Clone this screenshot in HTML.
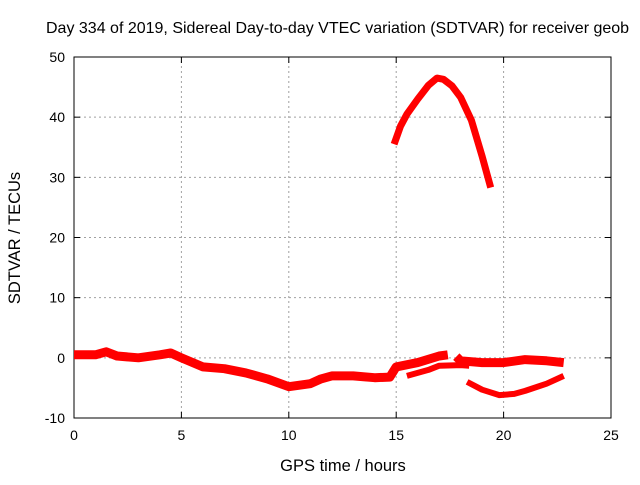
<!DOCTYPE html>
<html><head><meta charset="utf-8"><style>
body{margin:0;background:#fff;}
svg text{font-family:"Liberation Sans",sans-serif;font-size:14px;fill:#000;}
svg text.big{font-size:16.5px;}
svg text.ttl{font-size:16px;}
</style></head><body>
<svg width="640" height="480">
<rect width="640" height="480" fill="#fff"/>
<g id="grid"></g>
<g id="axes"></g>
<g id="series"></g>
<text class="ttl" x="46" y="33" text-anchor="start">Day 334 of 2019, Sidereal Day-to-day VTEC variation (SDTVAR) for receiver geob</text>
<text class="big" x="343" y="471" text-anchor="middle">GPS time / hours</text>
<text class="big" transform="translate(20,238) rotate(-90)" text-anchor="middle">SDTVAR / TECUs</text>
</svg>
<script>
const xTicks=[0,5,10,15,20,25];
const yTicks=[-10,0,10,20,30,40,50];
const s1T=[0,0.5,1,1.5,2,3,4,4.5,5,6,7,8,9,10,11,11.5,12,13,14,14.7,15,16,17,17.4];
const s1V=[0.5,0.5,0.5,1,0.3,0,0.5,0.8,0,-1.5,-1.8,-2.5,-3.5,-4.8,-4.3,-3.5,-3,-3,-3.3,-3.2,-1.5,-0.8,0.3,0.5];
const s2T=[17.8,18,19,20,21,22,22.8];
const s2V=[0.2,-0.5,-0.8,-0.8,-0.3,-0.5,-0.8];
const s3T=[15.5,16.5,17,18,18.4];
const s3V=[-3,-2,-1.3,-1.2,-1.3];
const s4T=[18.3,19,19.8,20.5,21,22,22.8];
const s4V=[-4,-5.3,-6.2,-6,-5.5,-4.3,-3];
const s5T=[14.9,15.2,15.5,16,16.5,16.9,17.2,17.6,18,18.5,19,19.4];
const s5V=[35.5,38.5,40.5,43,45.3,46.5,46.3,45.2,43.3,39.5,33.5,28.3];
const NS="http://www.w3.org/2000/svg";
const X0=74,X1=611,Y0=418,Y1=57;
const sx=v=>X0+(v-0)/25*(X1-X0);
const sy=v=>Y0-(v+10)/60*(Y0-Y1);
function mk(p,tag,a){const e=document.createElementNS(NS,tag);for(const k in a)e.setAttribute(k,a[k]);p.appendChild(e);return e;}
const grid=document.getElementById('grid'),axes=document.getElementById('axes'),ser=document.getElementById('series');
xTicks.forEach(t=>{
 if(t>0&&t<25){const l=mk(grid,'line',{x1:sx(t),x2:sx(t),y1:Y0,y2:Y1,stroke:'#a0a0a0','stroke-dasharray':'2,3'});
 
 }
 mk(axes,'line',{x1:sx(t),x2:sx(t),y1:Y0,y2:Y0-6,stroke:'#000'});
 mk(axes,'line',{x1:sx(t),x2:sx(t),y1:Y1,y2:Y1+6,stroke:'#000'});
 const tx=mk(axes,'text',{x:sx(t),y:Y0+22,'text-anchor':'middle'});tx.textContent=t;
 
 
});
yTicks.forEach(t=>{
 if(t>-10&&t<50){const l=mk(grid,'line',{x1:X0,x2:X1,y1:sy(t),y2:sy(t),stroke:'#a0a0a0','stroke-dasharray':'2,3'});
 
 }
 mk(axes,'line',{x1:X0,x2:X0+6,y1:sy(t),y2:sy(t),stroke:'#000'});
 mk(axes,'line',{x1:X1,x2:X1-6,y1:sy(t),y2:sy(t),stroke:'#000'});
 const tx=mk(axes,'text',{x:X0-9,y:sy(t)+5,'text-anchor':'end'});tx.textContent=t;
 
 
});
const fr=mk(axes,'rect',{x:X0,y:Y1,width:X1-X0,height:Y0-Y1,fill:'none',stroke:'#000'});


[[s1T,s1V,9],[s2T,s2V,9],[s3T,s3V,6],[s4T,s4V,6],[s5T,s5V,7]].forEach((s,i)=>{
 const pts=s[0].map((t,j)=>sx(t).toFixed(1)+','+sy(s[1][j]).toFixed(1)).join(' ');
 const p=mk(ser,'polyline',{points:pts,fill:'none',stroke:'#ff0000','stroke-width':s[2],'stroke-linejoin':'round'});
 
 
});
</script>
</body></html>
